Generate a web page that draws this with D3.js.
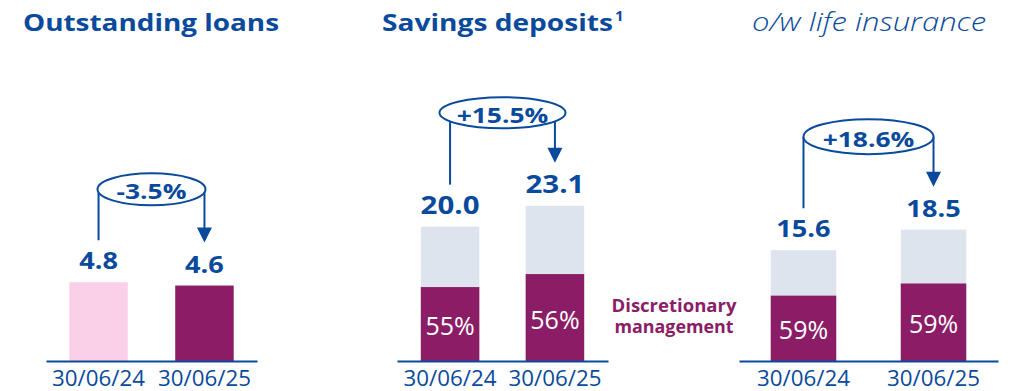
<!DOCTYPE html>
<html>
<head>
<meta charset="utf-8">
<script src="https://cdn.jsdelivr.net/npm/d3@7"></script>
<style>
  body { margin: 0; background: #ffffff; }
  svg { display: block; }
</style>
</head>
<body>
<svg id="chart" width="1015" height="391"></svg>
<script>
// ---- data ----
const dates = ["30/06/24", "30/06/25"];
const loans = [4.8, 4.6];                    // outstanding loans
const savings = [20.0, 23.1];                // savings deposits
const savingsDiscretionary = [55, 56];       // % under discretionary management
const lifeInsurance = [15.6, 18.5];          // of which life insurance
const lifeDiscretionary = [59, 59];          // % under discretionary management
const changes = ["-3.5%", "+15.5%", "+18.6%"];
const titles = ["Outstanding loans", "Savings deposits", "o/w life insurance"];
const footnoteMark = "1";
const legendLines = ["Discretionary", "management"];

// ---- styling ----
const BLUE = "#0a4a9c", PURPLE = "#8a1d66", PINK = "#f9d0e7", GREY = "#dee4ee";
const FONT = "'Open Sans', 'DejaVu Sans', sans-serif";
const baseY = 361;

const svg = d3.select("#chart").style("font-family", FONT);

// widen glyphs horizontally to give the geometric, wide letterforms
function stretch(sel, k) {
  sel.each(function () {
    const w = this.getComputedTextLength();
    d3.select(this).attr("textLength", w * k).attr("lengthAdjust", "spacingAndGlyphs");
  });
}
function fit(sel, w) {
  sel.attr("textLength", w).attr("lengthAdjust", "spacingAndGlyphs");
}

const panels = [
  { values: loans, shares: null, fills: [PINK, PURPLE], x0: 46, x1: 257, pxPerUnit: 16.4,
    inner: 0.448, outer: 0.22, valueSize: 23, change: changes[0], rx: 54, ry: 16 },
  { values: savings, shares: savingsDiscretionary, x0: 397, x1: 608, pxPerUnit: 6.72,
    inner: 0.442, outer: 0.227, valueSize: 25, change: changes[1], rx: 63, ry: 15.5 },
  { values: lifeInsurance, shares: lifeDiscretionary, x0: 739, x1: 998, pxPerUnit: 7.1,
    inner: 0.496, outer: 0.244, valueSize: 23, change: changes[2], rx: 65, ry: 17.5 }
];

panels.forEach(p => {
  const g = svg.append("g");
  const top = d3.max(p.values) * 1.4;
  const x = d3.scaleBand().domain(dates).range([p.x0, p.x1])
    .paddingInner(p.inner).paddingOuter(p.outer);
  const y = d3.scaleLinear().domain([0, top]).range([baseY, baseY - top * p.pxPerUnit]);
  const rows = dates.map((d, i) => ({ date: d, value: p.values[i], share: p.shares ? p.shares[i] : null, i }));

  // bars
  g.selectAll("rect.total").data(rows).join("rect")
    .attr("class", "total")
    .attr("x", d => x(d.date))
    .attr("width", x.bandwidth())
    .attr("y", d => y(d.value))
    .attr("height", d => baseY - y(d.value))
    .attr("fill", d => p.shares ? GREY : p.fills[d.i]);

  if (p.shares) {
    const part = d => d.value * d.share / 100;
    g.selectAll("rect.part").data(rows).join("rect")
      .attr("class", "part")
      .attr("x", d => x(d.date))
      .attr("width", x.bandwidth())
      .attr("y", d => y(part(d)))
      .attr("height", d => baseY - y(part(d)))
      .attr("fill", PURPLE);
    g.selectAll("text.share").data(rows).join("text")
      .attr("class", "share")
      .attr("x", d => x(d.date) + x.bandwidth() / 2)
      .attr("y", d => (y(part(d)) + baseY) / 2 + 1)
      .attr("text-anchor", "middle")
      .attr("dominant-baseline", "central")
      .attr("font-size", 25)
      .attr("font-weight", 400)
      .attr("fill", "#ffffff")
      .text(d => d.share + "%");
  }

  // value labels
  g.selectAll("text.value").data(rows).join("text")
    .attr("class", "value")
    .attr("x", d => x(d.date) + x.bandwidth() / 2)
    .attr("y", d => y(d.value) - 13)
    .attr("text-anchor", "middle")
    .attr("font-size", p.valueSize)
    .attr("font-weight", 700)
    .attr("fill", BLUE)
    .text(d => d3.format(".1f")(d.value))
    .call(stretch, 1.18);

  // axis
  const axis = g.append("g")
    .attr("transform", `translate(0,${baseY})`)
    .call(d3.axisBottom(x).tickSize(0).tickPadding(9.6));
  axis.select(".domain").attr("stroke", BLUE).attr("stroke-width", 2);
  axis.selectAll(".tick text")
    .attr("font-size", 21)
    .attr("font-family", FONT)
    .attr("fill", BLUE)
    .call(fit, 93);

  // change annotation: ellipse with a connector from the first bar to the second
  const c1 = x(dates[0]) + x.bandwidth() / 2;
  const c2 = x(dates[1]) + x.bandwidth() / 2;
  const cx = (c1 + c2) / 2;
  const cy = y(d3.max(p.values)) - 93;
  const edge = xx => cy + p.ry * Math.sqrt(Math.max(0, 1 - ((xx - cx) / p.rx) ** 2));
  const leftEnd = y(p.values[0]) - 42;
  const tip = y(p.values[1]) - 43;
  const head = 15;

  g.append("line")
    .attr("x1", c1).attr("x2", c1)
    .attr("y1", edge(c1)).attr("y2", leftEnd)
    .attr("stroke", BLUE).attr("stroke-width", 2);
  g.append("line")
    .attr("x1", c2).attr("x2", c2)
    .attr("y1", edge(c2)).attr("y2", tip - head + 1)
    .attr("stroke", BLUE).attr("stroke-width", 2);
  g.append("path")
    .attr("d", `M${c2 - 7.5},${tip - head} L${c2 + 7.5},${tip - head} L${c2},${tip} Z`)
    .attr("fill", BLUE);
  g.append("ellipse")
    .attr("cx", cx).attr("cy", cy)
    .attr("rx", p.rx).attr("ry", p.ry)
    .attr("fill", "#ffffff")
    .attr("stroke", BLUE).attr("stroke-width", 2);
  g.append("text")
    .attr("x", cx).attr("y", cy + 1)
    .attr("text-anchor", "middle")
    .attr("dominant-baseline", "central")
    .attr("font-size", 22)
    .attr("font-weight", 700)
    .attr("fill", BLUE)
    .text(p.change)
    .call(stretch, 1.2);
});

// titles
svg.append("text").attr("x", 23).attr("y", 31)
  .attr("font-size", 24).attr("font-weight", 700).attr("fill", BLUE)
  .text(titles[0]).call(fit, 256);
svg.append("text").attr("x", 382).attr("y", 31)
  .attr("font-size", 24).attr("font-weight", 700).attr("fill", BLUE)
  .text(titles[1]).call(fit, 231);
svg.append("text").attr("x", 615).attr("y", 21)
  .attr("font-size", 15).attr("font-weight", 700).attr("fill", BLUE)
  .text(footnoteMark);
svg.append("text").attr("x", 752).attr("y", 31)
  .attr("font-size", 25).attr("font-weight", 300).attr("font-style", "italic")
  .attr("fill", BLUE)
  .text(titles[2]).call(fit, 234);

// legend for the purple segments
legendLines.forEach((line, i) => {
  svg.append("text")
    .attr("x", 674).attr("y", 311.5 + i * 21.7)
    .attr("text-anchor", "middle")
    .attr("font-size", 17).attr("font-weight", 700).attr("fill", PURPLE)
    .text(line)
    .call(fit, i === 0 ? 125 : 119);
});
</script>
</body>
</html>
